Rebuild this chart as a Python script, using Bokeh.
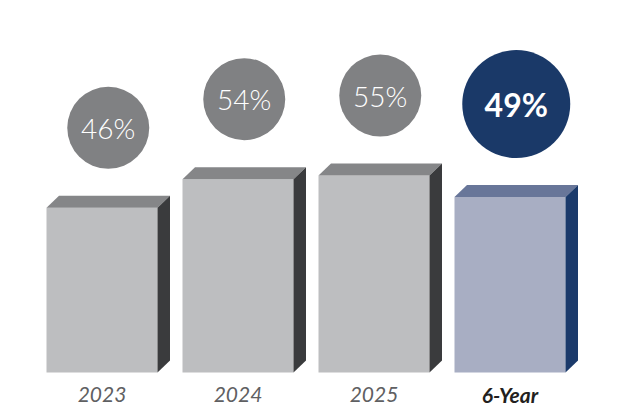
from bokeh.plotting import figure
from bokeh.models import ColumnDataSource, Range1d
from bokeh.core.properties import value
from bokeh.embed import file_html
from bokeh.resources import INLINE

# données
categories = ["2023", "2024", "2025", "6-Year"]
rates = [46, 54, 55, 49]
highlight = [False, False, False, True]

# couleurs
front_gray, top_gray, side_gray, circle_gray = "#bdbec0", "#858688", "#3a3b3d", "#808183"
front_navy, top_navy, side_navy, circle_navy = "#a8aec3", "#687699", "#1b3a6b", "#1a3968"

W, H = 616, 416
px_x = 136.0   # pixels par unité x
px_y = 3.58    # pixels par point de %
x0 = -101.5 / px_x
y0 = -(H - 372) / px_y

p = figure(width=W, height=H, output_backend="svg", toolbar_location=None,
           x_range=Range1d(x0, x0 + W / px_x), y_range=Range1d(y0, y0 + H / px_y),
           min_border=0, outline_line_color=None, background_fill_color="white")
p.axis.visible = False
p.grid.visible = False

half = 0.5 * 111 / px_x
dx = 12.5 / px_x
dy = 12 / px_y

xs = list(range(len(categories)))
fronts = [front_navy if h else front_gray for h in highlight]
tops = [top_navy if h else top_gray for h in highlight]
sides = [side_navy if h else side_gray for h in highlight]

p.quad(left=[x - half for x in xs], right=[x + half for x in xs],
       bottom=0, top=rates, fill_color=fronts, line_color=None)

top_xs = [[x - half, x + half, x + half + dx, x - half + dx] for x in xs]
top_ys = [[v, v, v + dy, v + dy] for v in rates]
p.patches(top_xs, top_ys, fill_color=tops, line_color=None)

side_xs = [[x + half, x + half + dx, x + half + dx, x + half] for x in xs]
side_ys = [[0, dy, v + dy, v] for v in rates]
p.patches(side_xs, side_ys, fill_color=sides, line_color=None)

# cercles
sizes = [108 if h else 82 for h in highlight]
gap = 39
cy = [v + (gap + s / 2) / px_y for v, s in zip(rates, sizes)]
circles = ColumnDataSource(dict(
    x=[x + dx / 2 for x in xs], y=cy, size=sizes,
    color=[circle_navy if h else circle_gray for h in highlight],
))
p.scatter("x", "y", size="size", marker="circle", fill_color="color",
          line_color=None, source=circles)

small = ColumnDataSource(dict(x=[x + dx / 2 for x, h in zip(xs, highlight) if not h],
                              y=[c for c, h in zip(cy, highlight) if not h],
                              label=[f"{v}%" for v, h in zip(rates, highlight) if not h]))
big = ColumnDataSource(dict(x=[x + dx / 2 for x, h in zip(xs, highlight) if h],
                            y=[c for c, h in zip(cy, highlight) if h],
                            label=[f"{v}%" for v, h in zip(rates, highlight) if h]))
p.text("x", "y", text="label", source=small, text_color="white",
       text_font=value("Lato Light"), text_font_size="28px",
       text_align="center", text_baseline="middle")
p.text("x", "y", text="label", source=big, text_color="white",
       text_font=value("Lato"), text_font_style="bold", text_font_size="32px",
       text_align="center", text_baseline="middle")

# étiquettes
label_y = -22 / px_y
p.text([x for x, h in zip(xs, highlight) if not h], label_y,
       text=[c for c, h in zip(categories, highlight) if not h],
       text_color="#5f6062", text_font=value("Lato"), text_font_style="italic",
       text_font_size="21px", text_align="center", text_baseline="middle")
p.text([x for x, h in zip(xs, highlight) if h], label_y,
       text=[c for c, h in zip(categories, highlight) if h],
       text_color="#231f20", text_font=value("Lato"), text_font_style="bold italic",
       text_font_size="21px", text_align="center", text_baseline="middle")

open("out.html", "w").write(file_html(p, INLINE))
